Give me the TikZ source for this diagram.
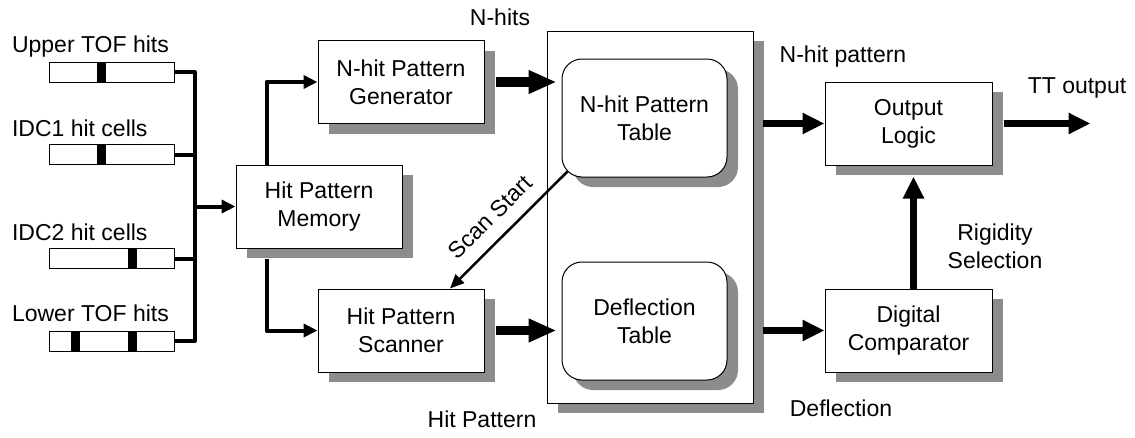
\documentclass[tikz,border=0pt]{standalone}
\usepackage{fontspec}
\setmainfont{Liberation Sans}
\usetikzlibrary{arrows.meta,calc,shadows,positioning}

\newcommand{\blockfont}{\fontsize{23}{28}\selectfont}

\begin{document}
\begin{tikzpicture}[
    x=1pt, y=-1pt,
    font=\blockfont,
    shade box/.style={draw, line width=1pt, fill=white,
        drop shadow={shadow xshift=11pt, shadow yshift=-10pt, fill=black!45, opacity=1}},
    block/.style={shade box, align=center, inner sep=0pt,
        minimum width=166pt, minimum height=83pt},
    lookup/.style={block, rounded corners=20pt, minimum width=165pt, minimum height=118pt},
    hitbar/.style={draw, line width=1pt, fill=white, inner sep=0pt,
        minimum width=125pt, minimum height=20pt},
    bus line/.style={line width=4pt, line join=round},
    bus arrow/.style={bus line, -{Triangle[length=14pt,width=13pt]}},
    fat arrow/.style={line width=9.5pt, -{Triangle[length=28pt,width=22pt]}},
    out arrow/.style={line width=7pt, -{Triangle[length=22pt,width=20pt]}},
    scan arrow/.style={line width=2.5pt, -{Triangle[length=14pt,width=12pt]}},
]
\useasboundingbox (0,0) rectangle (1135,437);

% detector hit bars
\node[hitbar] (bar-1) at (111.5,72) {};
\node[hitbar] (bar-2) at (111.5,154.5) {};
\node[hitbar] (bar-3) at (111.5,258.5) {};
\node[hitbar] (bar-4) at (111.5,341) {};
\fill ($(bar-1.north west)+(48,0)$) rectangle ++(9,20);
\fill ($(bar-2.north west)+(48,0)$) rectangle ++(9,20);
\fill ($(bar-3.north west)+(79,0)$) rectangle ++(9,20);
\fill ($(bar-4.north west)+(22,0)$) rectangle ++(9,20);
\fill ($(bar-4.north west)+(79,0)$) rectangle ++(9,20);
\node[anchor=base west] (lbl-1) at ($(bar-1.north west)+(-40,-9)$) {Upper TOF hits};
\node[anchor=base west] (lbl-2) at ($(bar-2.north west)+(-40,-8)$) {IDC1 hit cells};
\node[anchor=base west] (lbl-3) at ($(bar-3.north west)+(-40,-8)$) {IDC2 hit cells};
\node[anchor=base west] (lbl-4) at ($(bar-4.north west)+(-40,-9)$) {Lower TOF hits};

% trigger blocks
\node[block] (mem) at (319,206.5) {Hit Pattern\\Memory};
\node[block] (gen) at (401,82) {N-hit Pattern\\Generator};
\node[block] (scan) at (401,330.5) {Hit Pattern\\Scanner};
\node[shade box, minimum width=206pt, minimum height=372pt] (lut) at (650,217) {};
\node[lookup] (ntab) at (644.5,118) {N-hit Pattern\\Table};
\node[lookup] (dtab) at (644.5,321) {Deflection\\Table};
\node[block, minimum width=167pt] (outl) at (908.5,123.5) {Output\\Logic};
\node[block, minimum width=167pt] (comp) at (908.5,330.5) {Digital\\Comparator};

% bus into the memory
\coordinate[right=20pt of bar-1.east] (bus-top);
\coordinate[right=20pt of bar-4.east] (bus-bot);
\draw[bus line] (bar-1.east) -- (bus-top) -- (bus-bot) -- (bar-4.east);
\draw[bus line] (bar-2.east) -- (bar-2.east -| bus-top);
\draw[bus line] (bar-3.east) -- (bar-3.east -| bus-top);
\draw[bus arrow] (mem.west -| bus-top) -- (mem.west);

% memory outputs
\coordinate (mem-up) at ($(mem.north west)+(31,0)$);
\coordinate (mem-dn) at ($(mem.south west)+(31,10)$);
\draw[bus arrow] (mem-up) |- (gen.west);
\draw[bus arrow] (mem-dn) |- (scan.west);

% into the tables
\draw[fat arrow, shorten >=5pt] ($(gen.east)+(11,0)$) -- (gen.east -| ntab.west);
\draw[fat arrow, shorten >=5pt] ($(scan.east)+(11,0)$) -- (scan.east -| dtab.west);
\draw[scan arrow] ($(ntab.south west)+(6,-6)$) -- ($(scan.north)+(49,0)$);

% table outputs
\coordinate[right=98pt of outl.east] (tt);
\draw[out arrow] ($(lut.east |- outl.west)+(9,0)$) -- (outl.west);
\draw[out arrow] ($(lut.east |- comp.west)+(9,0)$) -- (comp.west);
\draw[out arrow] ($(comp.north)+(5,0)$) -- ($(outl.south)+(5,11)$);
\draw[out arrow] ($(outl.east)+(11,0)$) -- (tt);

% signal names
\node[rotate=45] (scan-lbl) at (490,217) {Scan Start};
\node (nhits-lbl) at (500,17) {N-hits};
\node (hitpat-lbl) at (482,419) {Hit Pattern};
\node (npat-lbl) at (843,57) {N-hit pattern};
\node (defl-lbl) at (841,408) {Deflection};
\node (tt-lbl) at (1077,88) {TT output};
\node[align=center] (rig-lbl) at (995,246) {Rigidity\\Selection};
\end{tikzpicture}
\end{document}
